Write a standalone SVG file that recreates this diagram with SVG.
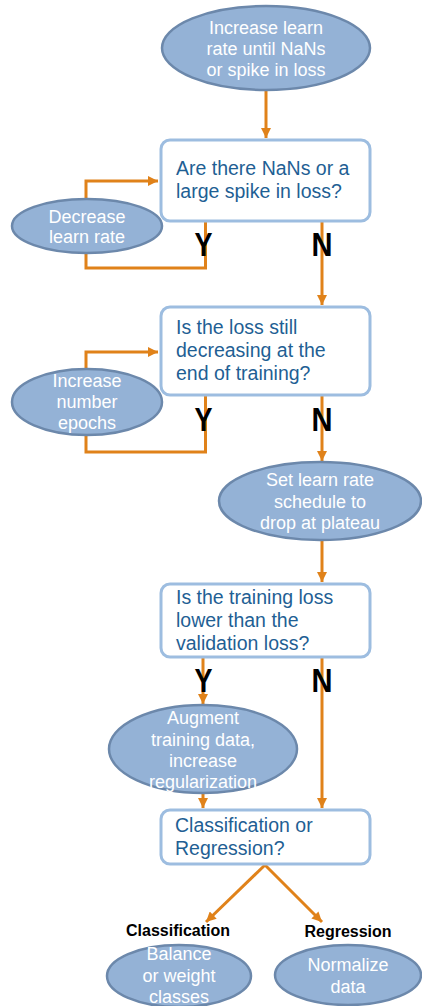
<svg xmlns="http://www.w3.org/2000/svg" width="422" height="1006" viewBox="0 0 422 1006">
<defs>
<marker id="ah" viewBox="0 0 10 10" refX="10" refY="5" markerWidth="10" markerHeight="10" markerUnits="userSpaceOnUse" orient="auto">
<path d="M0,0 L10,5 L0,10 z" fill="#e0821a"/>
</marker>
<style>
.ell{fill:#94b2d6;stroke:#6c88ab;stroke-width:2.5}
.box{fill:#fff;stroke:#9dbde0;stroke-width:3}
.et{font-family:"Liberation Sans",Arial,sans-serif;font-size:18px;fill:#fff;text-anchor:middle}
.bt{font-family:"Liberation Sans",Arial,sans-serif;font-size:19.5px;fill:#1f5f94}
.yn{font-family:"Liberation Sans",Arial,sans-serif;font-size:33px;font-weight:bold;fill:#000;text-anchor:middle}
.lb{font-family:"Liberation Sans",Arial,sans-serif;font-size:16px;font-weight:bold;fill:#000;text-anchor:middle}
.c{fill:none;stroke:#e0821a;stroke-width:3}
</style>
</defs>
<rect width="422" height="1006" fill="#fff"/>
<g id="connectors">
<path class="c" d="M266,91 V138" marker-end="url(#ah)"/>
<path class="c" d="M86,198 V181 H158" marker-end="url(#ah)"/>
<path class="c" d="M205.5,221 V268 H86 V253"/>
<path class="c" d="M322,221 V305" marker-end="url(#ah)"/>
<path class="c" d="M86,369 V352 H158" marker-end="url(#ah)"/>
<path class="c" d="M205.5,395 V452 H86 V435"/>
<path class="c" d="M322,395 V461" marker-end="url(#ah)"/>
<path class="c" d="M322,540 V582" marker-end="url(#ah)"/>
<path class="c" d="M203,657 V704" marker-end="url(#ah)"/>
<path class="c" d="M322,657 V808" marker-end="url(#ah)"/>
<path class="c" d="M203,793 V808" marker-end="url(#ah)"/>
<path class="c" d="M265,865 L206,922" marker-end="url(#ah)"/>
<path class="c" d="M265,865 L322,922" marker-end="url(#ah)"/>
</g>
<g id="labels">
<text class="yn" x="203.5" y="256" textLength="18" lengthAdjust="spacingAndGlyphs">Y</text>
<text class="yn" x="322" y="256" textLength="21" lengthAdjust="spacingAndGlyphs">N</text>
<text class="yn" x="203.5" y="431" textLength="18" lengthAdjust="spacingAndGlyphs">Y</text>
<text class="yn" x="322" y="431" textLength="21" lengthAdjust="spacingAndGlyphs">N</text>
<text class="yn" x="203.5" y="692" textLength="18" lengthAdjust="spacingAndGlyphs">Y</text>
<text class="yn" x="322" y="692" textLength="21" lengthAdjust="spacingAndGlyphs">N</text>
<text class="lb" x="178" y="936">Classification</text>
<text class="lb" x="348" y="937">Regression</text>
</g>
<g id="start">
<ellipse class="ell" cx="266" cy="48" rx="104" ry="42"/>
<text class="et" x="266" y="34">Increase learn</text>
<text class="et" x="266" y="55">rate until NaNs</text>
<text class="et" x="266" y="76">or spike in loss</text>
</g>
<g id="q1">
<rect class="box" x="161" y="140" width="209" height="81" rx="9"/>
<text class="bt" x="176" y="175">Are there NaNs or a</text>
<text class="bt" x="176" y="198">large spike in loss?</text>
</g>
<g id="decrease">
<ellipse class="ell" cx="87" cy="226" rx="75" ry="27"/>
<text class="et" x="87" y="223">Decrease</text>
<text class="et" x="87" y="243">learn rate</text>
</g>
<g id="q2">
<rect class="box" x="161" y="307" width="209" height="88" rx="9"/>
<text class="bt" x="176" y="334">Is the loss still</text>
<text class="bt" x="176" y="357">decreasing at the</text>
<text class="bt" x="176" y="380">end of training?</text>
</g>
<g id="epochs">
<ellipse class="ell" cx="87" cy="402" rx="75" ry="33"/>
<text class="et" x="87" y="387">Increase</text>
<text class="et" x="87" y="408">number</text>
<text class="et" x="87" y="429">epochs</text>
</g>
<g id="schedule">
<ellipse class="ell" cx="320" cy="501" rx="101" ry="39"/>
<text class="et" x="320" y="486">Set learn rate</text>
<text class="et" x="320" y="508">schedule to</text>
<text class="et" x="320" y="529">drop at plateau</text>
</g>
<g id="q3">
<rect class="box" x="161" y="584" width="209" height="73" rx="9"/>
<text class="bt" x="176" y="604">Is the training loss</text>
<text class="bt" x="176" y="627">lower than the</text>
<text class="bt" x="176" y="650">validation loss?</text>
</g>
<g id="augment">
<ellipse class="ell" cx="203" cy="749" rx="94" ry="44"/>
<text class="et" x="203" y="724">Augment</text>
<text class="et" x="203" y="746">training data,</text>
<text class="et" x="203" y="767">increase</text>
<text class="et" x="203" y="788">regularization</text>
</g>
<g id="q4">
<rect class="box" x="161" y="810" width="209" height="54" rx="9"/>
<text class="bt" x="175" y="832">Classification or</text>
<text class="bt" x="175" y="855">Regression?</text>
</g>
<g id="balance">
<ellipse class="ell" cx="179" cy="976" rx="72" ry="31"/>
<text class="et" x="179" y="960">Balance</text>
<text class="et" x="179" y="982">or weight</text>
<text class="et" x="179" y="1003">classes</text>
</g>
<g id="normalize">
<ellipse class="ell" cx="348" cy="975" rx="73" ry="30"/>
<text class="et" x="348" y="971">Normalize</text>
<text class="et" x="348" y="993">data</text>
</g>
</svg>
